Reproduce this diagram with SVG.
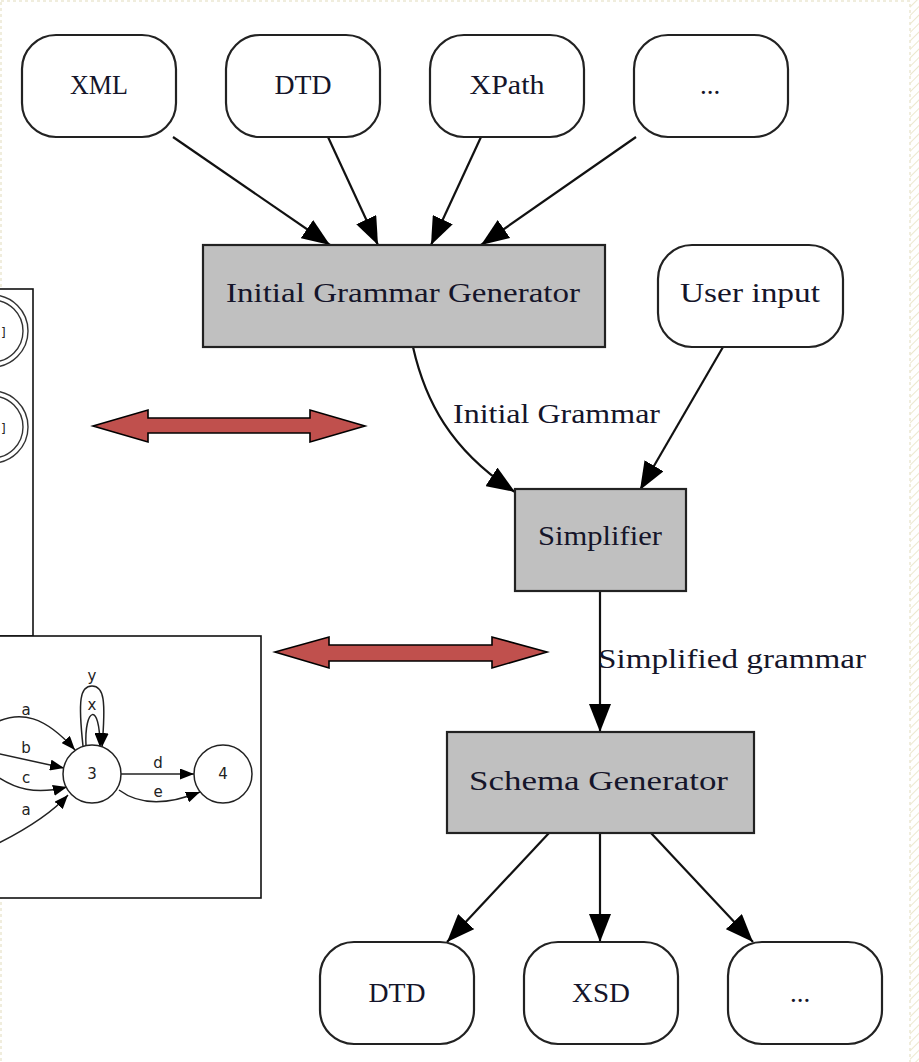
<svg xmlns="http://www.w3.org/2000/svg" width="919" height="1062" viewBox="0 0 919 1062">
  <defs>
    <style>
      .term { fill: #ffffff; stroke: #222; stroke-width: 2.2; }
      .proc { fill: #c0c0c0; stroke: #222; stroke-width: 2.2; }
      .lbl { font-family: "Liberation Serif", "Times New Roman", serif; fill: #15152a; }
      .edge { fill: none; stroke: #111; stroke-width: 2.2; }
      .mini { fill: none; stroke: #222; stroke-width: 1.5; }
      .miniNode { fill: #fff; stroke: #222; stroke-width: 1.5; }
      .miniTxt { font-family: "DejaVu Sans", sans-serif; font-size: 15px; fill: #222; text-anchor: middle; }
      .frame { fill: #fff; stroke: #111; stroke-width: 1.6; }
      .swap { fill: #c0504d; stroke: #000; stroke-width: 1.6; stroke-linejoin: miter; }
    </style>
    <marker id="arrow" viewBox="0 0 28 22" refX="28" refY="11" markerWidth="28" markerHeight="22" markerUnits="userSpaceOnUse" orient="auto">
      <path d="M0,0 L28,11 L0,22 Z" fill="#000"/>
    </marker>
    <marker id="tip" viewBox="0 0 14 11" refX="14" refY="5.5" markerWidth="14" markerHeight="11" markerUnits="userSpaceOnUse" orient="auto">
      <path d="M0,0 L14,5.5 L0,11 Z" fill="#000"/>
    </marker>
    <pattern id="hatch" width="6" height="6" patternUnits="userSpaceOnUse" patternTransform="rotate(45)">
      <line x1="0" y1="0" x2="0" y2="6" stroke="#ece8cf" stroke-width="2"/>
    </pattern>
  </defs>

  <!-- page background with faint hatched margin -->
  <rect x="0" y="0" width="919" height="1062" fill="#fff"/>
  <rect x="910" y="0" width="9" height="1062" fill="url(#hatch)"/>
  <rect x="1" y="1" width="909" height="1070" fill="none" stroke="#ebe8d2" stroke-width="1.5" stroke-dasharray="3 3"/>

  <!-- inset: partial automaton (top) -->
  <g id="inset-top">
    <rect class="frame" x="-2" y="289" width="35" height="347"/>
    <circle cx="-8" cy="331" r="36" fill="none" stroke="#333" stroke-width="1.4"/>
    <circle cx="-8" cy="331" r="31" fill="none" stroke="#333" stroke-width="1.4"/>
    <text x="1" y="337" class="miniTxt" style="text-anchor:start;font-size:12px">]</text>
    <circle cx="-8" cy="427" r="36" fill="none" stroke="#333" stroke-width="1.4"/>
    <circle cx="-8" cy="427" r="31" fill="none" stroke="#333" stroke-width="1.4"/>
    <text x="1" y="433" class="miniTxt" style="text-anchor:start;font-size:12px">]</text>
  </g>

  <!-- inset: automaton states 3 and 4 (bottom) -->
  <g id="inset-bottom">
    <rect class="frame" x="-2" y="636" width="263" height="262"/>
    <g id="mini-edges">
      <path class="mini" d="M-5,723 C20,710 45,716 75,750" marker-end="url(#tip)"/>
      <path class="mini" d="M-5,753 L64,768" marker-end="url(#tip)"/>
      <path class="mini" d="M-5,775 C15,789 35,795 67,787" marker-end="url(#tip)"/>
      <path class="mini" d="M-5,845 C25,830 50,815 68,795" marker-end="url(#tip)"/>
      <path class="mini" d="M86,746 C84,708 100,700 100,747" marker-end="url(#tip)"/>
      <path class="mini" d="M83,746 C78,700 80,686 92,686 C104,686 106,700 102,747" marker-end="url(#tip)"/>
      <path class="mini" d="M121,774 L194,774" marker-end="url(#tip)"/>
      <path class="mini" d="M119,790 C135,802 160,808 200,792" marker-end="url(#tip)"/>
    </g>
    <g id="state-3">
      <circle class="miniNode" cx="92" cy="774" r="29"/>
      <text class="miniTxt" x="92" y="779">3</text>
    </g>
    <g id="state-4">
      <circle class="miniNode" cx="223" cy="774" r="29"/>
      <text class="miniTxt" x="223" y="779">4</text>
    </g>
    <text class="miniTxt" x="26" y="715">a</text>
    <text class="miniTxt" x="26" y="753">b</text>
    <text class="miniTxt" x="26" y="783">c</text>
    <text class="miniTxt" x="26" y="815">a</text>
    <text class="miniTxt" x="92" y="710">x</text>
    <text class="miniTxt" x="92" y="681">y</text>
    <text class="miniTxt" x="158" y="768">d</text>
    <text class="miniTxt" x="158" y="797">e</text>
  </g>

  <!-- correspondence arrows -->
  <g id="swap-arrows">
    <path class="swap" d="M93,426 L148,410 L148,418 L310,418 L310,410 L365,426 L310,442 L310,433 L148,433 L148,442 Z"/>
    <path class="swap" d="M275,652 L329,637 L329,645 L492,645 L492,637 L547,652 L492,668 L492,661 L329,661 L329,668 Z"/>
  </g>

  <!-- connectors -->
  <g id="connectors">
    <path class="edge" d="M173,137 L330,245" marker-end="url(#arrow)"/>
    <path class="edge" d="M328,137 L378,245" marker-end="url(#arrow)"/>
    <path class="edge" d="M481,137 L431,245" marker-end="url(#arrow)"/>
    <path class="edge" d="M636,137 L481,245" marker-end="url(#arrow)"/>
    <path class="edge" d="M413,347 C425,400 450,450 515,492" marker-end="url(#arrow)"/>
    <path class="edge" d="M723,347 L640,490" marker-end="url(#arrow)"/>
    <path class="edge" d="M600,591 L600,732" marker-end="url(#arrow)"/>
    <path class="edge" d="M549,833 L447,942" marker-end="url(#arrow)"/>
    <path class="edge" d="M600,833 L600,942" marker-end="url(#arrow)"/>
    <path class="edge" d="M651,833 L753,942" marker-end="url(#arrow)"/>
    <text class="lbl" x="453" y="423" font-size="27" textLength="207" lengthAdjust="spacingAndGlyphs">Initial Grammar</text>
    <text class="lbl" x="598" y="668" font-size="27" textLength="268" lengthAdjust="spacingAndGlyphs">Simplified grammar</text>
  </g>

  <!-- input formats -->
  <g id="in-xml">
    <rect class="term" x="22" y="35" width="154" height="102" rx="34" ry="34"/>
    <text class="lbl" x="99" y="94" font-size="27" text-anchor="middle" textLength="58" lengthAdjust="spacingAndGlyphs">XML</text>
  </g>
  <g id="in-dtd">
    <rect class="term" x="226" y="35" width="154" height="102" rx="34" ry="34"/>
    <text class="lbl" x="303" y="94" font-size="27" text-anchor="middle" textLength="57" lengthAdjust="spacingAndGlyphs">DTD</text>
  </g>
  <g id="in-xpath">
    <rect class="term" x="430" y="35" width="154" height="102" rx="34" ry="34"/>
    <text class="lbl" x="507" y="94" font-size="27" text-anchor="middle" textLength="75" lengthAdjust="spacingAndGlyphs">XPath</text>
  </g>
  <g id="in-more">
    <rect class="term" x="634" y="35" width="154" height="102" rx="34" ry="34"/>
    <text class="lbl" x="710" y="94" font-size="27" text-anchor="middle">...</text>
  </g>

  <!-- processing stages -->
  <g id="initial-grammar-generator">
    <rect class="proc" x="203" y="245" width="402" height="102"/>
    <text class="lbl" x="226" y="302" font-size="27" textLength="354" lengthAdjust="spacingAndGlyphs">Initial Grammar Generator</text>
  </g>
  <g id="user-input">
    <rect class="term" x="658" y="245" width="185" height="102" rx="34" ry="34"/>
    <text class="lbl" x="680" y="302" font-size="27" textLength="140" lengthAdjust="spacingAndGlyphs">User input</text>
  </g>
  <g id="simplifier">
    <rect class="proc" x="515" y="489" width="171" height="102"/>
    <text class="lbl" x="538" y="545" font-size="27" textLength="124" lengthAdjust="spacingAndGlyphs">Simplifier</text>
  </g>
  <g id="schema-generator">
    <rect class="proc" x="447" y="732" width="307" height="101"/>
    <text class="lbl" x="469" y="790" font-size="27" textLength="259" lengthAdjust="spacingAndGlyphs">Schema Generator</text>
  </g>

  <!-- output formats -->
  <g id="out-dtd">
    <rect class="term" x="320" y="942" width="154" height="102" rx="34" ry="34"/>
    <text class="lbl" x="397" y="1002" font-size="27" text-anchor="middle" textLength="57" lengthAdjust="spacingAndGlyphs">DTD</text>
  </g>
  <g id="out-xsd">
    <rect class="term" x="524" y="942" width="154" height="102" rx="34" ry="34"/>
    <text class="lbl" x="601" y="1002" font-size="27" text-anchor="middle" textLength="58" lengthAdjust="spacingAndGlyphs">XSD</text>
  </g>
  <g id="out-more">
    <rect class="term" x="728" y="942" width="154" height="102" rx="34" ry="34"/>
    <text class="lbl" x="800" y="1002" font-size="27" text-anchor="middle">...</text>
  </g>
</svg>
